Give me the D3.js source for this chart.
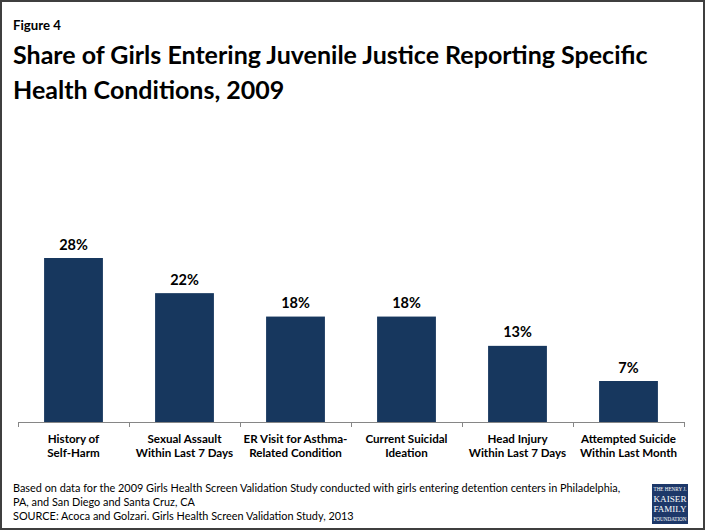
<!DOCTYPE html>
<html>
<head>
<meta charset="utf-8">
<script src="https://cdn.jsdelivr.net/npm/d3@7/dist/d3.min.js"></script>
<style>
  html, body { margin: 0; padding: 0; background: #fff; }
  svg { display: block; }
</style>
</head>
<body>
<script>
// ---- data ----
const categories = [
  ["History of", "Self-Harm"],
  ["Sexual Assault", "Within Last 7 Days"],
  ["ER Visit for Asthma-", "Related Condition"],
  ["Current Suicidal", "Ideation"],
  ["Head Injury", "Within Last 7 Days"],
  ["Attempted Suicide", "Within Last Month"]
];
const values = [28, 22, 18, 18, 13, 7];
const valueLabels = ["28%", "22%", "18%", "18%", "13%", "7%"];
const figureLabel = "Figure 4";
const titleLines = [
  "Share of Girls Entering Juvenile Justice Reporting Specific",
  "Health Conditions, 2009"
];
const footLines = [
  "Based on data for the 2009 Girls Health Screen Validation Study conducted with girls entering detention centers in Philadelphia,",
  "PA, and San Diego and Santa Cruz, CA",
  "SOURCE: Acoca and Golzari. Girls Health Screen Validation Study, 2013"
];

const W = 706, H = 531;
const FONT = "Lato, 'Open Sans', sans-serif";
const svg = d3.select("body").append("svg").attr("width", W).attr("height", H);

// frame
svg.append("rect").attr("x", 1).attr("y", 1).attr("width", W - 3).attr("height", H - 3)
  .attr("fill", "#fff").attr("stroke", "#3f3f3f").attr("stroke-width", 2);

function fit(sel, target) {
  const fs = parseFloat(sel.attr("font-size"));
  const len = sel.node().getComputedTextLength();
  sel.attr("font-size", (fs * target / len).toFixed(2));
  return fs * target / len;
}
function squeeze(sel, target) {
  const len = sel.node().getComputedTextLength();
  if (len > target) sel.attr("textLength", target).attr("lengthAdjust", "spacingAndGlyphs");
}

// figure label
const fig = svg.append("text").attr("x", 13).attr("y", 30)
  .attr("font-family", FONT).attr("font-weight", "bold").attr("font-size", 11)
  .attr("fill", "#000").text(figureLabel);
fit(fig, 48);

// title
const t1 = svg.append("text").attr("x", 13).attr("y", 64)
  .attr("font-family", FONT).attr("font-weight", "bold").attr("font-size", 25)
  .attr("fill", "#000").text(titleLines[0]);
const l1 = t1.node().getComputedTextLength();
squeeze(t1, 645);
const t2 = svg.append("text").attr("x", 13).attr("y", 99)
  .attr("font-family", FONT).attr("font-weight", "bold").attr("font-size", 25)
  .attr("fill", "#000").text(titleLines[1]);
const ratio = 645 / l1;
if (ratio < 1) squeeze(t2, t2.node().getComputedTextLength() * ratio);

// scales
const baseY = 422;
const x = d3.scaleBand().domain(d3.range(categories.length)).range([18, 684])
  .paddingInner(0.47).paddingOuter(0.235);
const y = d3.scaleLinear().domain([0, 28]).range([baseY, 258]);

// bars
svg.append("g").selectAll("rect").data(values).join("rect")
  .attr("x", (d, i) => x(i)).attr("width", x.bandwidth())
  .attr("y", d => y(d)).attr("height", d => baseY - y(d))
  .attr("fill", "#17375e");

// value labels
svg.append("g").selectAll("text").data(values).join("text")
  .attr("x", (d, i) => x(i) + x.bandwidth() / 2)
  .attr("y", d => y(d) - 8.5)
  .attr("text-anchor", "middle")
  .attr("font-family", FONT).attr("font-weight", "bold").attr("font-size", 14.5)
  .attr("fill", "#000")
  .text((d, i) => valueLabels[i]);

// axis
const axisScale = d3.scaleLinear().domain([0, categories.length]).range([18, 684]);
const axis = svg.append("g").attr("transform", `translate(0,${baseY})`)
  .call(d3.axisBottom(axisScale).tickValues(d3.range(categories.length + 1)).tickSize(5).tickSizeOuter(0).tickFormat(""));
axis.selectAll("path, line").attr("stroke", "#868686").attr("stroke-width", 1);
axis.select(".domain").attr("d", `M18,0.5H684`);

// category labels
const cl = svg.append("g").selectAll("text").data(categories).join("text")
  .attr("x", (d, i) => x(i) + x.bandwidth() / 2)
  .attr("y", 442.5)
  .attr("text-anchor", "middle")
  .attr("font-family", FONT).attr("font-weight", "bold").attr("font-size", 11.6)
  .attr("fill", "#000");
cl.each(function(d) {
  const t = d3.select(this);
  d.forEach((line, j) => {
    t.append("tspan").attr("x", t.attr("x")).attr("dy", j === 0 ? 0 : 14.5).text(line);
  });
});

// footnotes
const fy = [492, 506, 520];
let ffs = null;
footLines.forEach((line, i) => {
  const ft = svg.append("text").attr("x", 13).attr("y", fy[i])
    .attr("font-family", FONT).attr("font-size", 10.5).attr("fill", "#000").text(line);
  if (i === 0) ffs = fit(ft, 608);
  else ft.attr("font-size", ffs.toFixed(2));
});

// logo
const logo = svg.append("g").attr("transform", "translate(652,484)");
logo.append("rect").attr("width", 36).attr("height", 40).attr("fill", "#1d3869");
const lg = [
  {t: "THE HENRY J.", y: 7, s: 4.2},
  {t: "KAISER", y: 18, s: 10},
  {t: "FAMILY", y: 28, s: 10},
  {t: "FOUNDATION", y: 37, s: 4.2}
];
logo.selectAll("text").data(lg).join("text")
  .attr("x", 18).attr("y", d => d.y).attr("text-anchor", "middle")
  .attr("font-family", "'Liberation Serif', serif").attr("font-size", d => d.s)
  .attr("fill", "#fff").text(d => d.t)
  .each(function() { const s = d3.select(this); fit(s, 33); });
</script>
</body>
</html>
